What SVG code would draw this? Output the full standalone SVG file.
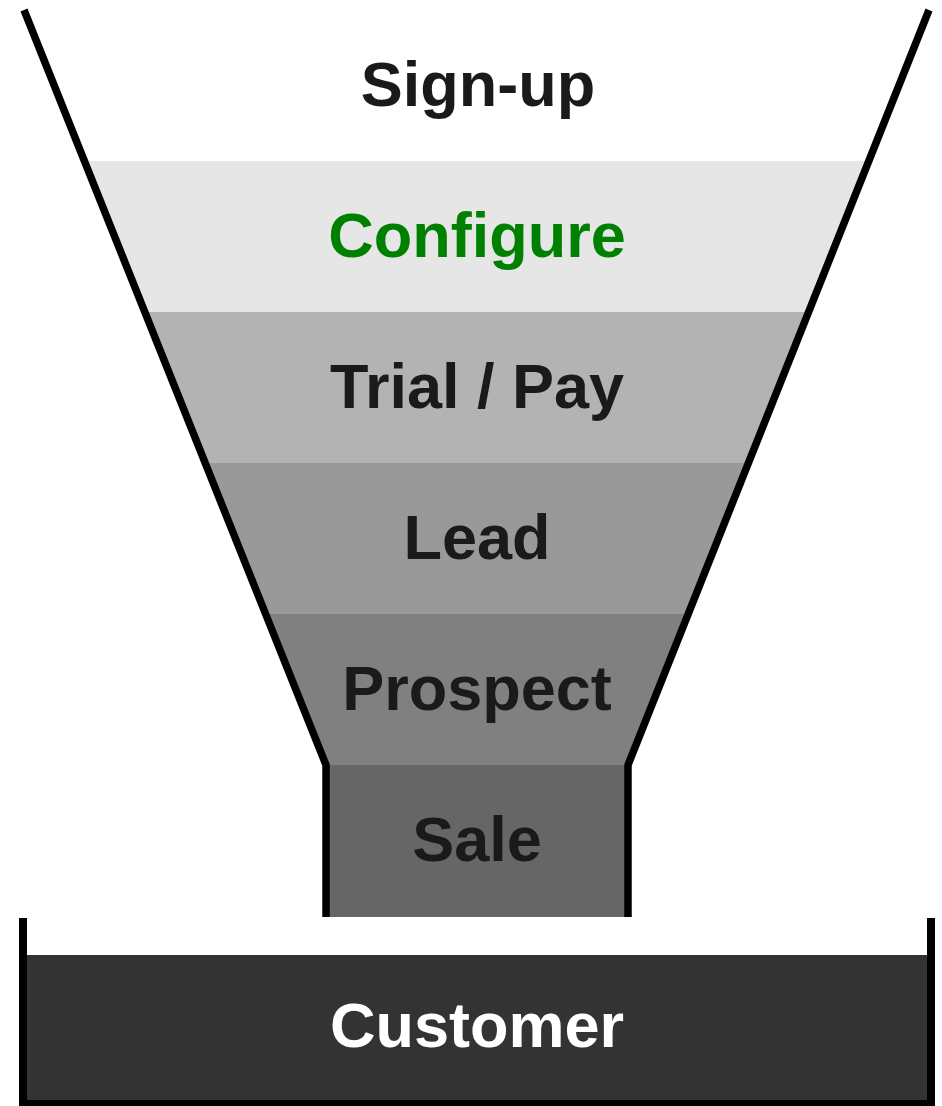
<svg xmlns="http://www.w3.org/2000/svg" width="942" height="1106" viewBox="0 0 942 1106">
<style>
  .lbl { font-family: "Liberation Sans", Arial, sans-serif; font-weight: bold; font-size: 63px; text-anchor: middle; fill: #1a1a1a; }
  .wall { fill: none; stroke: #000000; stroke-width: 7.5; stroke-linejoin: miter; }
</style>
<rect x="0" y="0" width="942" height="1106" fill="#ffffff"/>
<g id="signup">
  <polygon points="24,10 929,10 869,161 85,161" fill="#ffffff"/>
  <text class="lbl" x="478" y="106">Sign-up</text>
</g>
<g id="configure">
  <polygon points="85,161 869,161 808,312 145,312" fill="#e6e6e6"/>
  <text class="lbl" x="477" y="257" style="fill:#008000">Configure</text>
</g>
<g id="trial-pay">
  <polygon points="145,312 808,312 748,463 206,463" fill="#b3b3b3"/>
  <text class="lbl" x="477" y="408">Trial / Pay</text>
</g>
<g id="lead">
  <polygon points="206,463 748,463 688,614 266,614" fill="#999999"/>
  <text class="lbl" x="477" y="559">Lead</text>
</g>
<g id="prospect">
  <polygon points="266,614 688,614 628,765 327,765" fill="#808080"/>
  <text class="lbl" x="477" y="710">Prospect</text>
</g>
<g id="sale">
  <rect x="327" y="765" width="300" height="152" fill="#666666"/>
  <text class="lbl" x="477" y="861">Sale</text>
</g>
<g id="customer">
  <rect x="27" y="955" width="900" height="147" fill="#333333"/>
  <text class="lbl" x="477" y="1047" style="fill:#ffffff">Customer</text>
</g>
<g id="connectors">
  <path class="wall" d="M24,10 L326,765 L326,917"/>
  <path class="wall" d="M929,10 L628,765 L628,917"/>
  <path class="wall" d="M23,918 L23,1104 L931,1104 L931,918" style="stroke-width:8"/>
</g>
</svg>
